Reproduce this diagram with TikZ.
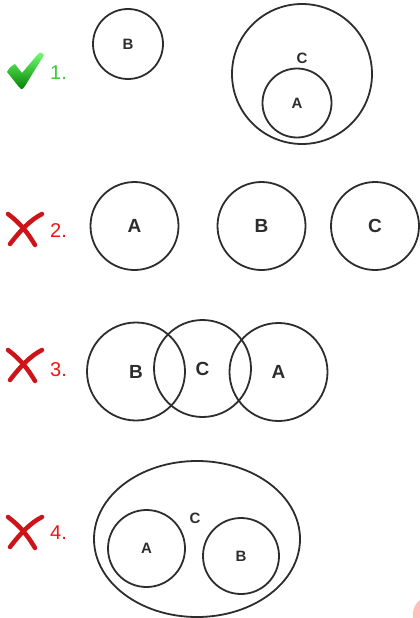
\documentclass[tikz,border=0pt]{standalone}
\usepackage{fontspec}
\setmainfont{Liberation Sans}
\usetikzlibrary{shapes.geometric}
\definecolor{okgreen}{RGB}{60,200,60}
\definecolor{badred}{RGB}{240,20,20}
\definecolor{brushred}{RGB}{205,20,25}
\definecolor{ink}{RGB}{45,45,45}
\tikzset{
  setc/.style={circle, draw=ink, line width=1.8pt, inner sep=0pt, font=\bfseries\fontsize{17}{17}\selectfont, text=ink},
  bigl/.style={font=\bfseries\fontsize{19}{19}\selectfont},
  smalll/.style={font=\bfseries\fontsize{15}{15}\selectfont},
  numg/.style={anchor=west, inner sep=0pt, text=okgreen, font=\fontsize{20}{20}\selectfont},
  numr/.style={anchor=west, inner sep=0pt, text=badred, font=\fontsize{20}{20}\selectfont},
  brush/.style={draw=brushred, line width=4.5pt, line cap=round},
  lbl/.style={inner sep=0pt, text=ink, font=\bfseries\fontsize{15}{15}\selectfont}
}
\newcommand{\wrongmark}[1]{%
  \begin{scope}[shift={(0,#1)}]
    \draw[brush] (8,-15) .. controls (20,-6) and (28,4) .. (35,16);
    \draw[brush] (10,15) .. controls (20,2) and (30,-9) .. (42,-15);
  \end{scope}}
\begin{document}
\begin{tikzpicture}[x=1pt,y=-1pt]
\useasboundingbox (0,0) rectangle (420,618);
\fill[white] (0,0) rectangle (420,618);

% row 1
\shade[top color=green!55!white, bottom color=green!50!black]
  (7,72) .. controls (10,67) .. (15,64) -- (22,73) -- (38,54) .. controls (41,52) .. (44,55)
  -- (25,86) .. controls (22,90) .. (19,87) -- cycle;
\node[numg] (n1) at (50,73) {1.};
\node[setc, smalll, minimum size=70pt] (b1) at (128,44) {B};
\node[setc, minimum size=140pt] (c1) at (302,74) {};
\node[lbl] (c1l) at (302,58) {C};
\node[setc, smalll, minimum size=69pt] (a1) at (297,103) {A};

% row 2
\wrongmark{229}
\node[numr] (n2) at (50,231) {2.};
\node[setc, bigl, minimum size=88pt] (a2) at (134.5,226) {A};
\node[setc, bigl, minimum size=88pt] (b2) at (261.5,226) {B};
\node[setc, bigl, minimum size=88pt] (c2) at (375,226) {C};

% row 3
\wrongmark{365}
\node[numr] (n3) at (50,370) {3.};
\node[setc, bigl, minimum size=98pt] (b3) at (136,371.5) {B};
\node[setc, bigl, minimum size=97pt] (c3) at (202.5,368.5) {C};
\node[setc, bigl, minimum size=98pt] (a3) at (278.5,372) {A};

% row 4
\wrongmark{532}
\node[numr] (n4) at (50,533) {4.};
\node[ellipse, draw=ink, line width=1.8pt, minimum width=206pt, minimum height=156pt, inner sep=0pt] (c4) at (197,539) {};
\node[lbl] (c4l) at (195,518) {C};
\node[setc, smalll, minimum size=77pt] (a4) at (146.5,548.5) {A};
\node[setc, smalll, minimum size=76pt] (b4) at (241,556) {B};

% watermark fragment
\fill[red!25] (420,600) .. controls (414,604) and (412,612) .. (413,618) -- (420,618) -- cycle;
\end{tikzpicture}
\end{document}
